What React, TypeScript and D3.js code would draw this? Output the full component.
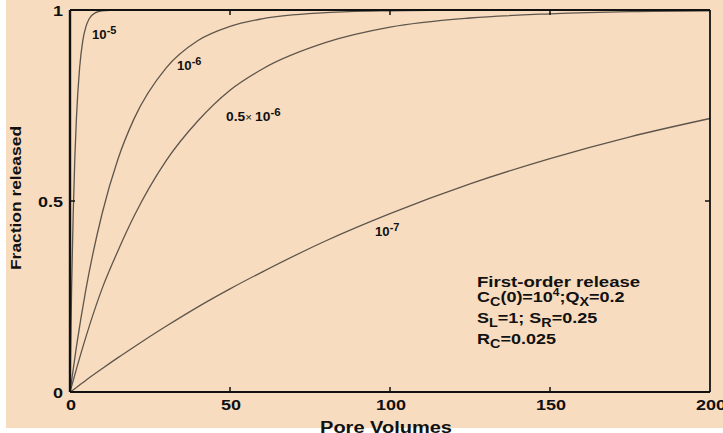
import React from "react";
import * as d3 from "d3";

// Pore volume grid (x) and fraction released (y)
const pvCoarse = [0, 2, 5, 10, 15, 20, 30, 40, 50, 60, 80, 100, 125, 150, 175, 200];
const frac1e7 = [0, 0.012, 0.031, 0.061, 0.09, 0.118, 0.172, 0.223, 0.27, 0.314, 0.396, 0.467, 0.545, 0.611, 0.668, 0.716];
const frac05e6 = [0, 0.06, 0.145, 0.27, 0.37, 0.46, 0.605, 0.71, 0.79, 0.845, 0.915, 0.955, 0.979, 0.99, 0.996, 0.998];
const frac1e6 = [0, 0.118, 0.27, 0.466, 0.61, 0.715, 0.848, 0.92, 0.957, 0.977, 0.993, 0.998, 1, 1, 1, 1];
const pvFine = [0, 0.5, 1, 1.5, 2, 3, 4, 5, 6, 8, 10, 15, 20, 200];
const frac1e5 = [0, 0.27, 0.466, 0.61, 0.715, 0.848, 0.92, 0.957, 0.977, 0.993, 0.998, 1, 1, 1];

const xTicks = [0, 50, 100, 150, 200];
const yTicks = [0, 0.5, 1];

const W = 723, H = 433;
const L = 70, R = 710, T = 10, B = 392;
const BG = "#f8dcbf";
const FONT = "'Liberation Sans', Arial, Helvetica, sans-serif";

function T2({ x, y, sx = 1.2, anchor = "start", size = 16, rotate = 0, children }: any) {
  return (
    <text
      transform={`translate(${x},${y}) rotate(${rotate}) scale(${sx},1)`}
      textAnchor={anchor}
      fontSize={size}
      fill="#111"
    >
      {children}
    </text>
  );
}

export default function App() {
  const x = d3.scaleLinear().domain([0, 200]).range([L, R]);
  const y = d3.scaleLinear().domain([0, 1]).range([B, T]);
  const line = d3
    .line<[number, number]>()
    .x((d) => x(d[0]))
    .y((d) => y(d[1]))
    .curve(d3.curveMonotoneX);
  const series: { xs: number[]; ys: number[] }[] = [
    { xs: pvFine, ys: frac1e5 },
    { xs: pvCoarse, ys: frac1e6 },
    { xs: pvCoarse, ys: frac05e6 },
    { xs: pvCoarse, ys: frac1e7 },
  ];
  const tickLabel = (v: number) => String(v);
  return (
    <svg
      width={W}
      height={H}
      style={{ position: "absolute", left: 0, top: 0, background: "#ffffff" }}
      fontFamily={FONT}
      fontWeight="bold"
    >
      <rect x={6} y={0} width={W - 6} height={428} fill={BG} />
      {series.map((s, i) => (
        <path
          key={i}
          d={line(s.xs.map((v, j) => [v, s.ys[j]]) as [number, number][]) || ""}
          fill="none"
          stroke="#5e554c"
          strokeWidth={1.3}
        />
      ))}
      <line x1={L} x2={R} y1={T} y2={T} stroke="#111" strokeWidth={1.8} />
      <line x1={R} x2={R} y1={T} y2={B} stroke="#111" strokeWidth={1.8} />
      <line x1={L} x2={R} y1={B} y2={B} stroke="#111" strokeWidth={2} />
      <line x1={L} x2={L} y1={T} y2={B} stroke="#111" strokeWidth={2.4} />
      {xTicks.slice(1, -1).map((t) => (
        <g key={"xt" + t}>
          <line x1={x(t)} x2={x(t)} y1={B} y2={B - 5} stroke="#111" strokeWidth={1.5} />
          <line x1={x(t)} x2={x(t)} y1={T} y2={T + 5} stroke="#111" strokeWidth={1.5} />
        </g>
      ))}
      {yTicks.slice(1, -1).map((t) => (
        <g key={"yt" + t}>
          <line x1={L} x2={L + 5} y1={y(t)} y2={y(t)} stroke="#111" strokeWidth={1.5} />
          <line x1={R} x2={R - 5} y1={y(t)} y2={y(t)} stroke="#111" strokeWidth={1.5} />
        </g>
      ))}
      {xTicks.map((t) => (
        <T2 key={"xl" + t} x={x(t) + 1} y={410} anchor="middle" size={15}>
          {tickLabel(t)}
        </T2>
      ))}
      {yTicks.map((t) => (
        <T2 key={"yl" + t} x={63} y={y(t) + 6} anchor="end" size={15}>
          {tickLabel(t)}
        </T2>
      ))}
      <T2 x={386} y={433} anchor="middle" size={16} sx={1.25}>
        Pore Volumes
      </T2>
      <T2 x={21} y={198} anchor="middle" size={15} sx={1.16} rotate={-90}>
        Fraction released
      </T2>
      <g>
        <T2 x={92} y={39} size={12} sx={1.1}>
          10<tspan dy={-5} fontSize={10}>-5</tspan>
        </T2>
        <T2 x={177} y={70} size={12} sx={1.1}>
          10<tspan dy={-5} fontSize={10}>-6</tspan>
        </T2>
        <T2 x={226} y={121} size={12} sx={1.15}>
          0.5<tspan fontSize={10} fontWeight="normal">× </tspan>10<tspan dy={-5} fontSize={10}>-6</tspan>
        </T2>
        <T2 x={375} y={236} size={12} sx={1.1}>
          10<tspan dy={-5} fontSize={10}>-7</tspan>
        </T2>
      </g>
      <g>
        <T2 x={477} y={287} size={15} sx={1.24}>First-order release</T2>
        <T2 x={477} y={302} size={15} sx={1.2}>
          C<tspan dy={4} fontSize={12}>C</tspan>
          <tspan dy={-4}>(0)=10</tspan>
          <tspan dy={-6} fontSize={10}>4</tspan>
          <tspan dy={6}>;Q</tspan>
          <tspan dy={4} fontSize={12}>X</tspan>
          <tspan dy={-4}>=0.2</tspan>
        </T2>
        <T2 x={477} y={323} size={15} sx={1.2}>
          S<tspan dy={4} fontSize={12}>L</tspan>
          <tspan dy={-4}>=1; S</tspan>
          <tspan dy={4} fontSize={12}>R</tspan>
          <tspan dy={-4}>=0.25</tspan>
        </T2>
        <T2 x={477} y={344} size={15} sx={1.2}>
          R<tspan dy={4} fontSize={12}>C</tspan>
          <tspan dy={-4}>=0.025</tspan>
        </T2>
      </g>
    </svg>
  );
}
